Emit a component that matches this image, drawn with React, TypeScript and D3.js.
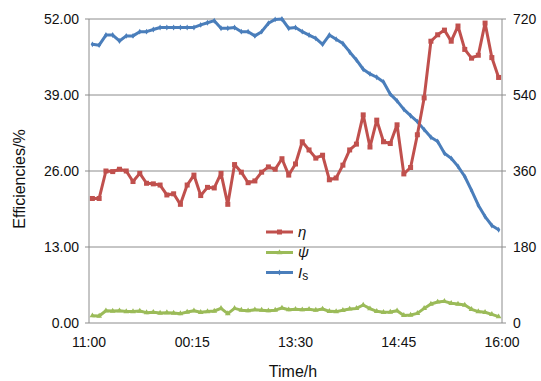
import React from "react";
import * as d3 from "d3";

const W = 541;
const H = 381;

const xTickLabels = ["11:00", "00:15", "13:30", "14:45", "16:00"];
const leftTicks = [0, 13, 26, 39, 52];
const rightTicks = [0, 180, 360, 540, 720];

// η efficiency (%), left axis
const eta = [
  21.3, 21.3, 26.0, 25.9, 26.3, 26.0, 24.2, 25.6, 23.9, 23.8,
  23.6, 21.9, 22.1, 20.3, 23.6, 25.3, 21.8, 23.2, 23.1, 25.6,
  20.3, 27.1, 25.8, 24.0, 24.3, 25.8, 26.7, 26.3, 28.1, 25.3,
  27.2, 31.0, 29.6, 28.2, 28.7, 24.5, 24.8, 27.0, 29.6, 30.6,
  35.6, 30.1, 34.7, 31.0, 30.7, 33.9, 25.5, 26.6, 32.2, 38.5,
  48.2, 49.3, 50.1, 48.2, 50.8, 46.8, 45.3, 45.8, 51.3, 45.4,
  42.0,
];

// ψ efficiency (%), left axis
const psi = [
  1.25, 1.2, 2.1, 2.05, 2.1, 1.95, 1.95, 2.05, 1.77, 1.85,
  1.7, 1.77, 1.7, 1.6, 1.88, 2.1, 1.83, 1.95, 2.05, 2.5,
  1.6, 2.5, 2.2, 2.1, 2.28, 2.2, 2.1, 2.2, 2.57, 2.28,
  2.34, 2.28, 2.34, 2.2, 2.4, 2.0, 1.95, 2.17, 2.4, 2.5,
  3.08, 2.45, 2.0, 1.83, 1.88, 2.1, 1.3, 1.37, 1.65, 2.5,
  3.25, 3.6, 3.7, 3.37, 3.25, 3.08, 2.34, 1.95, 1.83, 1.48,
  1.08,
];

// I_s irradiance, right axis
const irr = [
  660, 658, 682, 682, 668, 680, 680, 690, 690, 695,
  700, 700, 700, 700, 700, 700, 706, 711, 716, 698,
  698, 700, 690, 690, 680, 690, 710, 719, 720, 698,
  700, 690, 682, 674, 660, 682, 672, 662, 642, 623,
  601, 590, 582, 571, 542, 526, 506, 491, 477, 458,
  440, 430, 402, 390, 371, 347, 314, 279, 252, 231,
  221,
];

const left = 89;
const right = 502;
const top = 19;
const bottom = 323;

const RED = "#C0504D";
const GREEN = "#9BBB59";
const BLUE = "#4A7EBB";
const GRID = "#8C8C8C";
const FONT = "'Liberation Sans', Arial, Helvetica, sans-serif";

export default function App() {
  const n = eta.length;
  const idx = d3.range(n);
  const x = d3.scaleLinear().domain([-0.5, n - 0.5]).range([left, right]);
  const yL = d3.scaleLinear().domain([0, 52]).range([bottom, top]);
  const yR = d3.scaleLinear().domain([0, 720]).range([bottom, top]);
  const tickPos = d3.scaleLinear().domain([0, xTickLabels.length - 1]).range([left, right]);

  const lineL = d3.line<number>().x((i) => x(i)).y((i) => yL(0)).curve(d3.curveLinear);
  const etaPath = d3.line<number>().x((i) => x(i)).y((i) => yL(eta[i]))(idx) || "";
  const psiPath = d3.line<number>().x((i) => x(i)).y((i) => yL(psi[i]))(idx) || "";
  const irrPath = d3.line<number>().x((i) => x(i)).y((i) => yR(irr[i]))(idx) || "";
  void lineL;

  const tri = d3.symbol().type(d3.symbolTriangle).size(14)() || "";
  const dia = d3.symbol().type(d3.symbolDiamond).size(10)() || "";

  return (
    <svg width={W} height={H} style={{ position: "absolute", left: 0, top: 0, background: "#fff" }} fontFamily={FONT}>
      {/* gridlines */}
      {leftTicks.slice(1).map((t) => (
        <line key={"g" + t} x1={left} x2={right} y1={yL(t)} y2={yL(t)} stroke={GRID} strokeWidth={1} />
      ))}
      {/* axes */}
      <line x1={left} x2={left} y1={top} y2={bottom} stroke={GRID} strokeWidth={1} />
      <line x1={right} x2={right} y1={top} y2={bottom} stroke={GRID} strokeWidth={1} />
      <line x1={left} x2={right} y1={bottom} y2={bottom} stroke={GRID} strokeWidth={1} />
      {leftTicks.map((t) => (
        <line key={"lt" + t} x1={left - 4} x2={left} y1={yL(t)} y2={yL(t)} stroke={GRID} />
      ))}
      {rightTicks.map((t) => (
        <line key={"rt" + t} x1={right} x2={right + 4} y1={yR(t)} y2={yR(t)} stroke={GRID} />
      ))}
      {/* left labels */}
      {leftTicks.map((t) => (
        <text key={"ll" + t} x={79} y={yL(t)} dy="0.35em" textAnchor="end" fontSize={14} fill="#111">
          {t.toFixed(2)}
        </text>
      ))}
      {rightTicks.map((t) => (
        <text key={"rl" + t} x={513} y={yR(t)} dy="0.35em" textAnchor="start" fontSize={14} fill="#111">
          {t}
        </text>
      ))}
      {xTickLabels.map((l, i) => (
        <text key={"xl" + i} x={tickPos(i)} y={347} textAnchor="middle" fontSize={14} fill="#111">
          {l}
        </text>
      ))}
      <text x={293} y={377} textAnchor="middle" fontSize={16} fill="#111">Time/h</text>
      <text transform={`translate(25,${(top + bottom) / 2 + 8}) rotate(-90)`} textAnchor="middle" fontSize={16} fill="#111">
        Efficiencies/%
      </text>

      {/* series */}
      <path d={irrPath} fill="none" stroke={BLUE} strokeWidth={3} strokeLinejoin="round" />
      {idx.map((i) => (
        <path key={"bm" + i} d={dia} transform={`translate(${x(i)},${yR(irr[i])})`} fill={BLUE} />
      ))}
      <path d={psiPath} fill="none" stroke={GREEN} strokeWidth={3} strokeLinejoin="round" />
      {idx.map((i) => (
        <path key={"gm" + i} d={tri} transform={`translate(${x(i)},${yL(psi[i])})`} fill={GREEN} />
      ))}
      <path d={etaPath} fill="none" stroke={RED} strokeWidth={3} strokeLinejoin="round" />
      {idx.map((i) => (
        <rect key={"rm" + i} x={x(i) - 2.5} y={yL(eta[i]) - 2.5} width={5} height={5} fill={RED} />
      ))}

      {/* legend */}
      <g>
        <line x1={266} x2={293} y1={232} y2={232} stroke={RED} strokeWidth={3} />
        <rect x={277} y={229.5} width={5} height={5} fill={RED} />
        <text x={298} y={237} fontSize={15} fontStyle="italic" fill="#111">η</text>
        <line x1={266} x2={293} y1={252.5} y2={252.5} stroke={GREEN} strokeWidth={3} />
        <path d={tri} transform="translate(279.5,252.5)" fill={GREEN} />
        <text x={298} y={257} fontSize={15} fontStyle="italic" fill="#111">ψ</text>
        <line x1={266} x2={293} y1={272.5} y2={272.5} stroke={BLUE} strokeWidth={3} />
        <path d={dia} transform="translate(279.5,272.5)" fill={BLUE} />
        <text x={298} y={278} fontSize={15} fill="#111">
          <tspan fontStyle="italic">I</tspan>
          <tspan fontSize={12} dy={2}>s</tspan>
        </text>
      </g>
    </svg>
  );
}
